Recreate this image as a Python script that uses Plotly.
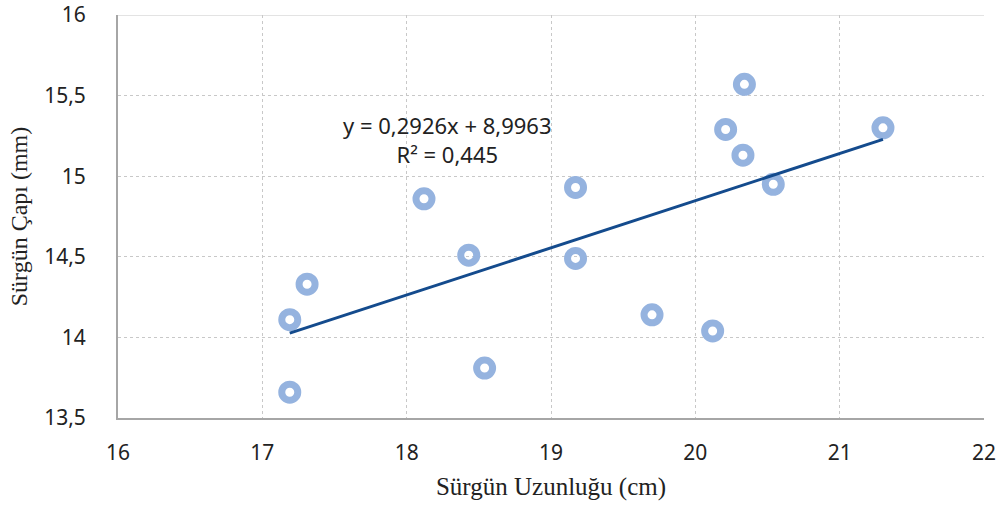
import plotly.graph_objects as go

# Data
surgun_uzunlugu = [17.19, 17.19, 17.31, 18.12, 18.43, 18.54, 19.17, 19.17,
                   19.70, 20.12, 20.21, 20.34, 20.33, 20.54, 21.30]
surgun_capi = [13.66, 14.11, 14.33, 14.86, 14.51, 13.81, 14.93, 14.49,
               14.14, 14.04, 15.29, 15.57, 15.13, 14.95, 15.30]
slope = 0.2926
intercept = 8.9963
x_ticks = [16, 17, 18, 19, 20, 21, 22]
y_ticks = [13.5, 14, 14.5, 15, 15.5, 16]

x_min, x_max = min(surgun_uzunlugu), max(surgun_uzunlugu)
trend_x = [x_min, x_max]
trend_y = [slope * v + intercept for v in trend_x]

fig = go.Figure()
fig.add_trace(go.Scatter(
    x=surgun_uzunlugu, y=surgun_capi, mode="markers",
    marker=dict(symbol="circle-open", size=16, color="#95b3df",
                line=dict(width=7, color="#95b3df")),
    showlegend=False,
))
fig.add_trace(go.Scatter(
    x=trend_x, y=trend_y, mode="lines",
    line=dict(color="#144b8d", width=3),
    showlegend=False,
))

fig.add_annotation(
    x=18.28, y=15.226, xref="x", yref="y",
    text="y = 0,2926x + 8,9963<br>R² = 0,445",
    showarrow=False, align="center",
    font=dict(family="Noto Sans", size=22, color="#222222"),
)

# top border gridline at the last y tick
fig.add_shape(type="line", xref="paper", yref="y", x0=0, x1=1,
              y0=y_ticks[-1], y1=y_ticks[-1],
              line=dict(color="#c8c8c8", width=1), layer="below")

fig.update_layout(
    width=1003, height=511,
    margin=dict(l=118, r=19, t=15, b=93),
    paper_bgcolor="white", plot_bgcolor="white",
    separators=",.",
    font=dict(family="Noto Sans", size=21, color="#222222"),
)
fig.update_xaxes(
    range=[16, 22], tickvals=x_ticks, automargin=False,
    ticklabeloverflow="allow",
    showgrid=True, gridcolor="#c8c8c8", griddash="dot", gridwidth=1,
    showline=True, linecolor="#a6a6a6", linewidth=2,
    zeroline=False, ticks="", ticklabelstandoff=15,
    title=dict(text="Sürgün Uzunluğu (cm)", standoff=12,
               font=dict(family="Liberation Serif", size=25, color="#222222")),
)
fig.update_yaxes(
    range=[13.5, 16], tickvals=y_ticks, automargin=False,
    ticklabeloverflow="allow",
    showgrid=True, gridcolor="#c8c8c8", griddash="dot", gridwidth=1,
    showline=True, linecolor="#a6a6a6", linewidth=2,
    zeroline=False, ticks="", ticklabelstandoff=26,
    title=dict(text="Sürgün Çapı (mm)", standoff=10,
               font=dict(family="Liberation Serif", size=24, color="#222222")),
)

fig.write_html("out.html")
